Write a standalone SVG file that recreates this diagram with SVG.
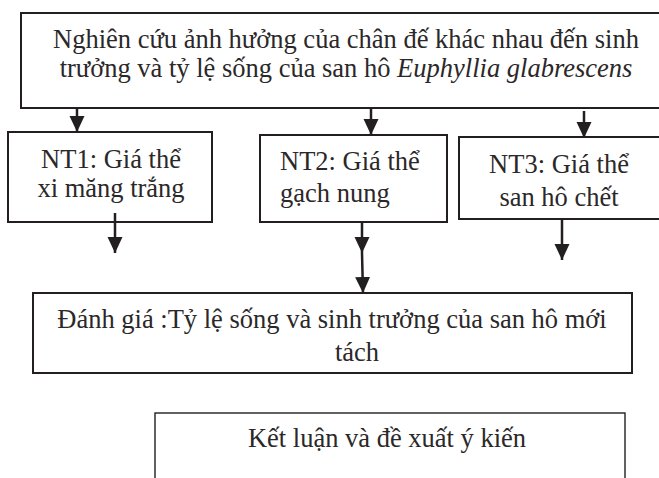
<svg xmlns="http://www.w3.org/2000/svg" width="659" height="478" viewBox="0 0 659 478">
  <defs>
    <marker id="ah" markerUnits="userSpaceOnUse" markerWidth="18" markerHeight="18" viewBox="0 0 18 18" refX="16" refY="9" orient="auto">
      <path d="M0,1.5 L16,9 L0,16.5 Z" fill="#231f20"/>
    </marker>
    <style>
      .box { fill: #fff; stroke: #231f20; stroke-width: 2; }
      .thin { stroke-width: 1.4; }
      .t { font-family: "Liberation Serif", "Times New Roman", serif; font-size: 26.5px; fill: #2b2829; }
      .c { text-anchor: middle; }
      .conn line { stroke: #231f20; stroke-width: 2.5; marker-end: url(#ah); }
    </style>
  </defs>
  <rect width="659" height="478" fill="#fff"/>

  <g id="node-top">
    <rect class="box" x="21" y="13" width="640" height="95"/>
    <text class="t c" x="346" y="48">Nghiên cứu ảnh hưởng của chân đế khác nhau đến sinh</text>
    <text class="t c" x="346" y="77">trưởng và tỷ lệ sống của san hô <tspan font-style="italic">Euphyllia glabrescens</tspan></text>
  </g>

  <g id="node-nt1">
    <rect class="box" x="8" y="132" width="204" height="90"/>
    <text class="t c" x="111" y="168">NT1: Giá thể</text>
    <text class="t c" x="111" y="197">xi măng trắng</text>
  </g>

  <g id="node-nt2">
    <rect class="box" x="260" y="135" width="187" height="87"/>
    <text class="t" x="280" y="170">NT2: Giá thể</text>
    <text class="t" x="280" y="202">gạch nung</text>
  </g>

  <g id="node-nt3">
    <rect class="box" x="459" y="137" width="202" height="82"/>
    <text class="t c" x="559" y="173">NT3: Giá thể</text>
    <text class="t c" x="559" y="206">san hô chết</text>
  </g>

  <g id="node-eval">
    <rect class="box" x="33" y="293" width="599" height="80"/>
    <text class="t c" x="332" y="328">Đánh giá :Tỷ lệ sống và sinh trưởng của san hô mới</text>
    <text class="t c" x="357" y="361">tách</text>
  </g>

  <g id="node-conclusion">
    <rect class="box thin" x="155" y="413" width="470" height="80"/>
    <text class="t c" x="387" y="447">Kết luận và đề xuất ý kiến</text>
  </g>

  <g id="connectors" class="conn">
    <line x1="77" y1="108" x2="77" y2="132"/>
    <line x1="371" y1="108" x2="371" y2="135"/>
    <line x1="584" y1="111" x2="584" y2="138"/>
    <line x1="115" y1="213" x2="115" y2="253"/>
    <line x1="362" y1="222" x2="362" y2="253"/>
    <line x1="362" y1="253" x2="363" y2="293"/>
    <line x1="562" y1="219" x2="562" y2="260"/>
  </g>
</svg>
